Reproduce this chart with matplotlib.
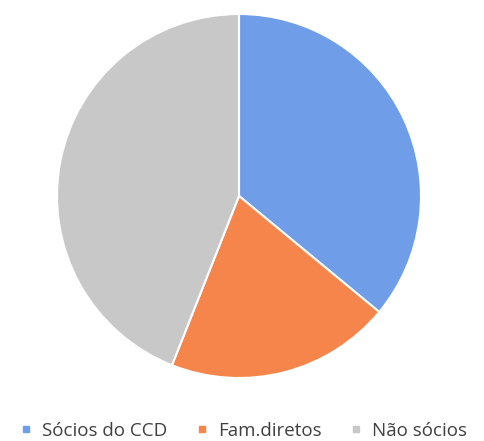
import matplotlib.pyplot as plt
from matplotlib.lines import Line2D

labels = ['Sócios do CCD', 'Fam.diretos', 'Não sócios']
values = [36, 20, 44]
colours = ['#6f9de8', '#f5854a', '#c8c8c8']

fig = plt.figure(figsize=(4.84, 4.41), dpi=100)
cx, cy, r = 239, 196, 182
ax = fig.add_axes([(cx - r) / 484, (441 - cy - r) / 441, 2 * r / 484, 2 * r / 441])
ax.pie(values, colors=colours, startangle=90, counterclock=False, radius=1,
       wedgeprops=dict(edgecolor='white', linewidth=1.5))
ax.set_xlim(-1, 1)
ax.set_ylim(-1, 1)
ax.set_aspect('equal')
ax.axis('off')

handles = [Line2D([], [], marker='s', linestyle='', color=c, markersize=5)
           for c in colours]
fig.legend(handles, labels, loc='center', bbox_to_anchor=(0.505, 1 - 431 / 441),
           ncol=3, frameon=False, handlelength=0.5,
           handletextpad=0.6, columnspacing=1.6, labelcolor='#404040',
           prop={'family': 'Open Sans', 'size': 13.5})

fig.savefig('out.png', dpi=100)
